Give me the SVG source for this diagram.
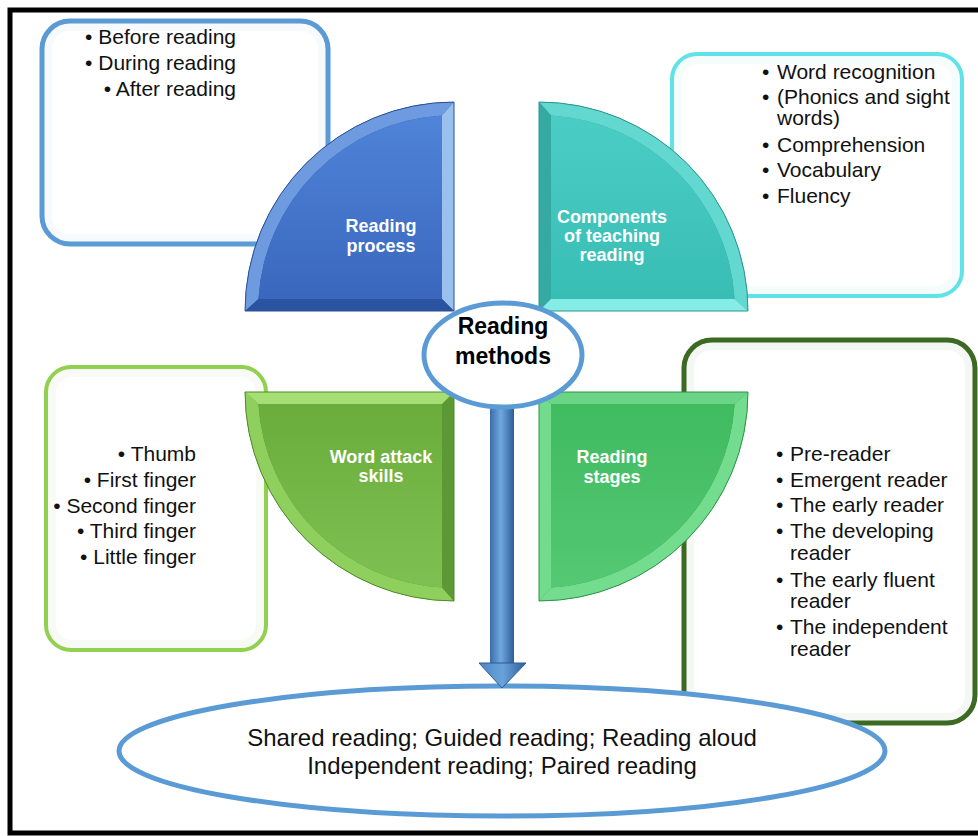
<svg xmlns="http://www.w3.org/2000/svg" width="978" height="836" viewBox="0 0 978 836">
<defs>
<style>
.t{font-family:"Liberation Sans",Arial,sans-serif;font-size:21px;fill:#111}
.q{font-family:"Liberation Sans",Arial,sans-serif;font-size:18px;font-weight:bold;fill:#fff;text-anchor:middle}
.box{fill:#fff}
.glow{fill:none;stroke-opacity:0.05;stroke-width:8}
.edge{stroke-width:1}
</style>
<linearGradient id="gBlue" x1="0" y1="0" x2="0" y2="1"><stop offset="0" stop-color="#4f84d8"/><stop offset="1" stop-color="#3a67bd"/></linearGradient>
<linearGradient id="gTeal" x1="0" y1="0" x2="0" y2="1"><stop offset="0" stop-color="#4acdc5"/><stop offset="1" stop-color="#38bdb4"/></linearGradient>
<linearGradient id="gLime" x1="0" y1="0" x2="0" y2="1"><stop offset="0" stop-color="#7fc052"/><stop offset="1" stop-color="#6aad3c"/></linearGradient>
<linearGradient id="gGreen" x1="0" y1="0" x2="0" y2="1"><stop offset="0" stop-color="#55c874"/><stop offset="1" stop-color="#3fbb60"/></linearGradient>
<linearGradient id="gShaft" x1="0" y1="0" x2="1" y2="0"><stop offset="0" stop-color="#3a6dab"/><stop offset="0.45" stop-color="#70a8de"/><stop offset="1" stop-color="#2d5d98"/></linearGradient>
<linearGradient id="gHead" x1="0" y1="0" x2="1" y2="0"><stop offset="0" stop-color="#4d85c6"/><stop offset="0.5" stop-color="#6aa2da"/><stop offset="1" stop-color="#2f5f9c"/></linearGradient>
<path id="qOuter" d="M -209,0 A 209 209 0 0 1 0,-209 L 0,0 Z"/>
<path id="qInner" d="M -195.6,-12 A 196 196 0 0 1 -12,-195.6 L -12,-12 Z"/>
<path id="qArc" d="M -209,0 A 209 209 0 0 1 0,-209 L -12,-195.6 A 196 196 0 0 0 -195.6,-12 Z"/>
<path id="qV" d="M 0,-209 L 0,0 L -12,-12 L -12,-195.6 Z"/>
<path id="qH" d="M -209,0 L 0,0 L -12,-12 L -195.6,-12 Z"/>
</defs>
<rect x="0" y="0" width="978" height="836" fill="#fff"/>
<rect x="10" y="10" width="1000" height="823" fill="none" stroke="#000" stroke-width="5"/>

<g id="box-process">
<rect class="box" x="42" y="21" width="286" height="223" rx="28" stroke="#5b9bd5" stroke-width="5"/>
<rect class="glow" x="48" y="27" width="274" height="211" rx="22" stroke="#5b9bd5"/>
<text class="t" text-anchor="end" x="236" y="44">• Before reading</text>
<text class="t" text-anchor="end" x="236" y="70">• During reading</text>
<text class="t" text-anchor="end" x="236" y="96">• After reading</text>
</g>

<g id="box-components">
<rect class="box" x="672" y="54" width="290" height="242" rx="25" stroke="#5fe2e8" stroke-width="4"/>
<rect class="glow" x="678" y="60" width="278" height="230" rx="20" stroke="#4bb"/>
<g class="t">
<text x="762" y="79">•</text><text x="777" y="79">Word recognition</text>
<text x="762" y="104">•</text><text x="777" y="104">(Phonics and sight</text>
<text x="777" y="125">words)</text>
<text x="762" y="152">•</text><text x="777" y="152">Comprehension</text>
<text x="762" y="177">•</text><text x="777" y="177">Vocabulary</text>
<text x="762" y="203">•</text><text x="777" y="203">Fluency</text>
</g>
</g>

<g id="box-wordattack">
<rect class="box" x="46" y="367" width="220" height="283" rx="25" stroke="#92d050" stroke-width="4"/>
<rect class="glow" x="52" y="373" width="208" height="271" rx="20" stroke="#7a4"/>
<text class="t" text-anchor="end" x="196" y="461">• Thumb</text>
<text class="t" text-anchor="end" x="196" y="487">• First finger</text>
<text class="t" text-anchor="end" x="196" y="513">• Second finger</text>
<text class="t" text-anchor="end" x="196" y="538">• Third finger</text>
<text class="t" text-anchor="end" x="196" y="564">• Little finger</text>
</g>

<g id="box-stages">
<rect class="box" x="684" y="340" width="291" height="383" rx="28" stroke="#3c6a22" stroke-width="5"/>
<rect class="glow" x="690" y="346" width="279" height="371" rx="22" stroke="#464"/>
<g class="t">
<text x="776" y="461">•</text><text x="790" y="461">Pre-reader</text>
<text x="776" y="487">•</text><text x="790" y="487">Emergent reader</text>
<text x="776" y="512">•</text><text x="790" y="512">The early reader</text>
<text x="776" y="538">•</text><text x="790" y="538">The developing</text>
<text x="790" y="560">reader</text>
<text x="776" y="587">•</text><text x="790" y="587">The early fluent</text>
<text x="790" y="608">reader</text>
<text x="776" y="634">•</text><text x="790" y="634">The independent</text>
<text x="790" y="656">reader</text>
</g>
</g>

<g id="q-process">
<g transform="translate(454,311)">
<use href="#qOuter" fill="#2f5aa8"/>
<use href="#qArc" fill="#6e9be0"/>
<use href="#qV" fill="#9ac0ee"/>
<use href="#qH" fill="#2b54a0"/>
<use href="#qInner" fill="url(#gBlue)"/>
<use href="#qOuter" fill="none" stroke="#2a4f93" class="edge"/>
</g>
<text class="q" x="381" y="232">Reading</text>
<text class="q" x="381" y="252">process</text>
</g>

<g id="q-components">
<g transform="translate(539,311) scale(-1,1)">
<use href="#qOuter" fill="#2fa39c"/>
<use href="#qArc" fill="#62d8d0"/>
<use href="#qV" fill="#35aaa3"/>
<use href="#qH" fill="#86ece6"/>
<use href="#qInner" fill="url(#gTeal)"/>
<use href="#qOuter" fill="none" stroke="#2a948d" class="edge"/>
</g>
<text class="q" x="612" y="223">Components</text>
<text class="q" x="612" y="242">of teaching</text>
<text class="q" x="612" y="261">reading</text>
</g>

<g id="q-wordattack">
<g transform="translate(454,392) scale(1,-1)">
<use href="#qOuter" fill="#5a9532"/>
<use href="#qArc" fill="#8fcf5e"/>
<use href="#qV" fill="#5c9834"/>
<use href="#qH" fill="#a4de74"/>
<use href="#qInner" fill="url(#gLime)"/>
<use href="#qOuter" fill="none" stroke="#4f8a2b" class="edge"/>
</g>
<text class="q" x="381" y="463">Word attack</text>
<text class="q" x="381" y="482">skills</text>
</g>

<g id="q-stages">
<g transform="translate(539,392) scale(-1,-1)">
<use href="#qOuter" fill="#2f9a4b"/>
<use href="#qArc" fill="#74dc8e"/>
<use href="#qV" fill="#72dc8c"/>
<use href="#qH" fill="#6cd487"/>
<use href="#qInner" fill="url(#gGreen)"/>
<use href="#qOuter" fill="none" stroke="#2e9449" class="edge"/>
</g>
<text class="q" x="612" y="463">Reading</text>
<text class="q" x="612" y="483">stages</text>
</g>

<g id="methods-list">
<ellipse cx="502" cy="751" rx="383" ry="65" fill="#fff" stroke="#5b9bd5" stroke-width="5"/>
<text x="502" y="746" text-anchor="middle" font-family="Liberation Sans, Arial, sans-serif" font-size="24" fill="#111">Shared reading; Guided reading; Reading aloud</text>
<text x="502" y="774" text-anchor="middle" font-family="Liberation Sans, Arial, sans-serif" font-size="24" fill="#111">Independent reading; Paired reading</text>
</g>

<g id="connectors">
<rect x="490" y="406" width="24" height="259" fill="url(#gShaft)"/>
<polygon points="479,663 526,663 502,688" fill="url(#gHead)" stroke="#2d5a92" stroke-width="1"/>
</g>

<g id="center">
<ellipse cx="503" cy="355" rx="79" ry="52" fill="#fff" stroke="#5b9bd5" stroke-width="5"/>
<text x="503" y="334" text-anchor="middle" font-family="Liberation Sans, Arial, sans-serif" font-size="23" font-weight="bold" fill="#000">Reading</text>
<text x="503" y="364" text-anchor="middle" font-family="Liberation Sans, Arial, sans-serif" font-size="23" font-weight="bold" fill="#000">methods</text>
</g>
</svg>
